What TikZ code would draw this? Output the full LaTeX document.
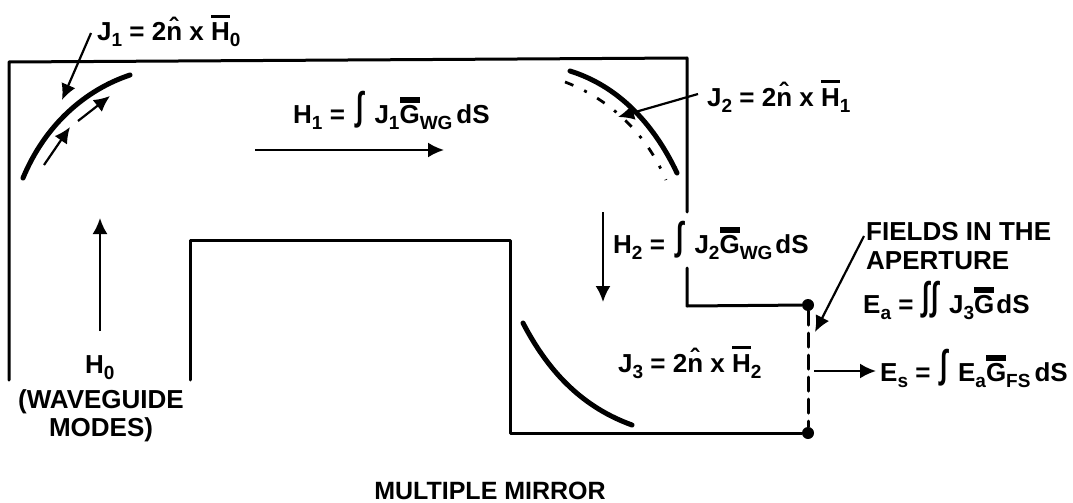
\documentclass[tikz,border=0pt]{standalone}
\usepackage{amsmath,graphicx}
\usepackage{fontspec}
\setmainfont{Liberation Sans}
\usetikzlibrary{arrows.meta}
\newcommand{\hatn}{\^{n}}
\newcommand{\barb}[1]{\setbox0\hbox{#1}\rlap{\raisebox{23pt}{\rule{\wd0}{3pt}}}#1}
\newcommand{\barg}{\setbox0\hbox{G}\rlap{\raisebox{20.5pt}{\rule{\wd0}{6pt}}}G}
\newcommand{\lo}[1]{\raisebox{-6pt}{\fontsize{19}{19}\selectfont #1}}
\newcommand{\ig}{\raisebox{4pt}{\scalebox{1}[1.5]{\char"222B}}}
\tikzset{wall/.style={line width=3pt,line cap=round,line join=round},
 mirror/.style={line width=5pt,line cap=round},
 flow/.style={-{Latex[length=16pt,width=15pt]},line width=2.2pt},
 dot/.style={circle,fill=black,inner sep=0pt,minimum size=12pt},
 txt/.style={align=center,font=\fontsize{26}{28}\selectfont\bfseries,inner sep=0pt,anchor=base west}}
\begin{document}
\begin{tikzpicture}[x=1pt,y=-1pt]
\useasboundingbox (0,0) rectangle (1073,503);
\node[dot](da) at (808,305){};\node[dot](db) at (808,433){};
\coordinate (wa) at (9,380);\coordinate (wb) at (9,62);\coordinate (wc) at (687,58);\coordinate (wd) at (687,212);
\coordinate (we) at (687,268);\coordinate (wf) at (687,306);
\coordinate (ia) at (190,380);\coordinate (ib) at (190,240);\coordinate (ic) at (510,240);\coordinate (id) at (510,433);
\draw[wall](wa)--(wb)--(wc)--(wd);
\draw[wall](we)--(wf)--(da);
\draw[wall](ia)--(ib)--(ic)--(id)--(db);
\draw[wall,dash pattern=on 14pt off 8pt](da)--(db);
% mirrors
\coordinate (ma) at (23,178);\coordinate (mb) at (130,75);
\coordinate (mc) at (570,71);\coordinate (md) at (677,173);
\coordinate (me) at (523,323);\coordinate (mf) at (632,425);
\coordinate (mg) at (565,82);\coordinate (mh) at (666,180);
\draw[mirror](ma) .. controls (45,125) and (85,90) .. (mb);
\draw[mirror](mc) .. controls (615,85) and (652,120) .. (md);
\draw[mirror](me) .. controls (550,375) and (585,408) .. (mf);
\draw[line width=2.8pt,dash pattern=on 9pt off 12pt on 3pt off 12pt](mg) .. controls (605,97) and (645,130) .. (mh);
% labels
\node[txt](ja) at (97,41){J\lo{1} = 2\hatn{} x \barb{H}\lo{0}};
\node[txt](hb) at (293,123){H\lo{1} = \kern4pt\ig\kern4pt{} J\lo{1}\barg\lo{WG}\kern4pt{}dS};
\node[txt](jb) at (707,106){J\lo{2} = 2\hatn{} x \barb{H}\lo{1}};
\node[txt](hc) at (613,253){H\lo{2} = \kern4pt\ig\kern4pt{} J\lo{2}\barg\lo{WG}\kern3pt{}dS};
\node[txt](fa) at (866,240){FIELDS IN THE};
\node[txt](fb) at (866,269){APERTURE};
\node[txt](ea) at (863,313){E\lo{a} = \kern2pt\ig\kern2pt\ig\kern3pt{} J\lo{3}\barg\kern2pt{}dS};
\node[txt](jc) at (618,372){J\lo{3} = 2\hatn{} x \barb{H}\lo{2}};
\node[txt](es) at (880,381){E\lo{s} = \kern3pt\ig\kern3pt{} E\lo{a}\barg\lo{FS}\kern4pt{}dS};
\node[txt](ho) at (85,373){H\lo{0}};
\node[txt,anchor=base](wg) at (101,436){(WAVEGUIDE\\MODES)};
\node[txt,anchor=base,font=\fontsize{25}{30}\selectfont\bfseries](mm) at (490,499){MULTIPLE MIRROR};
% arrows
\coordinate (pa) at (91,33);\coordinate (pb) at (62,100);
\coordinate (pc) at (44,165);\coordinate (pd) at (70,127);
\coordinate (pe) at (78,121);\coordinate (pf) at (110,96);
\coordinate (pg) at (255,150);\coordinate (ph) at (444,150);
\coordinate (pi) at (100,331);\coordinate (pj) at (100,218);
\coordinate (pk) at (603,212);\coordinate (pl) at (603,302);
\coordinate (pm) at (698,94);\coordinate (pn) at (618,117);
\coordinate (po) at (864,236);\coordinate (pp) at (815,332);
\coordinate (pq) at (814,371);\coordinate (pr) at (876,371);
\foreach \a/\b in {pa/pb,pc/pd,pe/pf,pg/ph,pi/pj,pk/pl,pm/pn,po/pp,pq/pr}
 \draw[flow](\a)--(\b);
\end{tikzpicture}
\end{document}
